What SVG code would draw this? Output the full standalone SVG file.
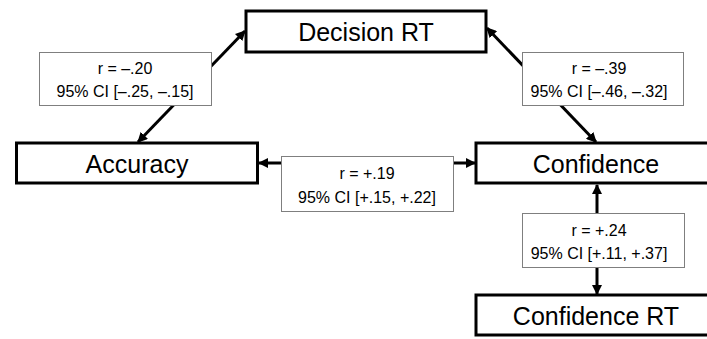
<svg xmlns="http://www.w3.org/2000/svg" width="707" height="339" viewBox="0 0 707 339">
<defs>
<style>
.node{fill:#fff;stroke:#000;stroke-width:3}
.lbl{fill:#fff;stroke:#7f7f7f;stroke-width:1}
.big{font-family:"Liberation Sans",Arial,sans-serif;font-size:25px;fill:#000;text-anchor:middle}
.sm{font-family:"Liberation Sans",Arial,sans-serif;font-size:16px;fill:#000;text-anchor:middle}
.conn{stroke:#000;stroke-width:3;fill:none;marker-start:url(#ah);marker-end:url(#ah)}
</style>
<marker id="ah" viewBox="0 0 10 10" refX="9" refY="5" markerWidth="3.4" markerHeight="3.4" orient="auto-start-reverse" markerUnits="strokeWidth">
<path d="M0,0 L10,5 L0,10 Z" fill="#000"/>
</marker>
</defs>
<g id="connectors">
<line class="conn" x1="138" y1="142" x2="245" y2="31"/>
<line class="conn" x1="487" y1="28" x2="596" y2="142"/>
<line class="conn" x1="259" y1="163" x2="475" y2="163"/>
<line class="conn" x1="597" y1="185" x2="597" y2="294"/>
</g>
<g id="decision-rt">
<rect class="node" x="246" y="11" width="240" height="41"/>
<text class="big" x="366" y="41">Decision RT</text>
</g>
<g id="accuracy">
<rect class="node" x="16.5" y="143" width="241" height="40"/>
<text class="big" x="137" y="173">Accuracy</text>
</g>
<g id="confidence">
<rect class="node" x="476" y="143" width="241" height="40"/>
<text class="big" x="596" y="173">Confidence</text>
</g>
<g id="confidence-rt">
<rect class="node" x="476" y="295" width="241" height="40"/>
<text class="big" x="596" y="325">Confidence RT</text>
</g>
<g id="label-acc-dec">
<rect class="lbl" x="39.5" y="52.5" width="172" height="53"/>
<text class="sm" x="125" y="74">r = –.20</text>
<text class="sm" x="125" y="97">95% CI [–.25, –.15]</text>
</g>
<g id="label-conf-dec">
<rect class="lbl" x="522.5" y="52.5" width="161" height="53"/>
<text class="sm" x="599" y="74">r = –.39</text>
<text class="sm" x="599" y="97">95% CI [–.46, –.32]</text>
</g>
<g id="label-acc-conf">
<rect class="lbl" x="281.5" y="156.5" width="172" height="55"/>
<text class="sm" x="367" y="179">r = +.19</text>
<text class="sm" x="367" y="203">95% CI [+.15, +.22]</text>
</g>
<g id="label-conf-confrt">
<rect class="lbl" x="522.5" y="213.5" width="162" height="54"/>
<text class="sm" x="599" y="236">r = +.24</text>
<text class="sm" x="599" y="259">95% CI [+.11, +.37]</text>
</g>
</svg>
